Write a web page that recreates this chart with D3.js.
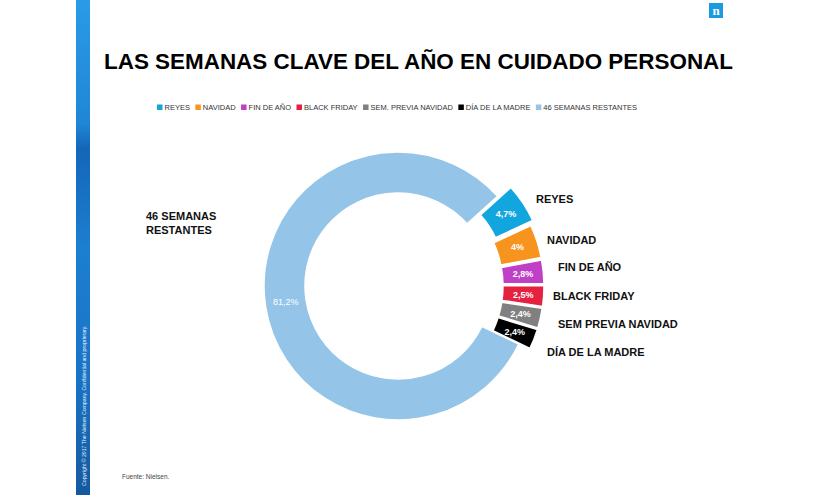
<!DOCTYPE html>
<html><head><meta charset="utf-8">
<script src="https://cdn.jsdelivr.net/npm/d3@7"></script>
<style>html,body{margin:0;padding:0;background:#fff;}svg{display:block;}</style>
</head><body>
<script>
// ---- data ----
const categories = ["REYES","NAVIDAD","FIN DE AÑO","BLACK FRIDAY","SEM. PREVIA NAVIDAD","DÍA DE LA MADRE","46 SEMANAS RESTANTES"];
const calloutLabels = ["REYES","NAVIDAD","FIN DE AÑO","BLACK FRIDAY","SEM PREVIA NAVIDAD","DÍA DE LA MADRE",["46 SEMANAS","RESTANTES"]];
const values = [4.7, 4, 2.8, 2.5, 2.4, 2.4, 81.2];
const valueLabels = ["4,7%","4%","2,8%","2,5%","2,4%","2,4%","81,2%"];
const colors = ["#12a6df","#f7941d","#bf3fc6","#e4213f","#808080","#000000","#94c4e7"];

const W = 824, H = 495;
const svg = d3.select("body").append("svg").attr("width", W).attr("height", H);
const font = "'Liberation Sans', Arial, sans-serif";

// left decorative strip
const defs = svg.append("defs");
const g1 = defs.append("linearGradient").attr("id","strip").attr("x1",0).attr("y1",0).attr("x2",0).attr("y2",1);
[["0%","#2a9be6"],["25%","#1f86d6"],["30%","#1466b8"],["50%","#1c7fd0"],["75%","#1a74c6"],["100%","#15599f"]]
  .forEach(s => g1.append("stop").attr("offset", s[0]).attr("stop-color", s[1]));
svg.append("rect").attr("x",76).attr("y",0).attr("width",14).attr("height",H).attr("fill","url(#strip)");
svg.append("text").attr("transform","translate(86,486) rotate(-90)")
  .attr("font-family", font).attr("font-size", 5.2).attr("fill", "#e8f3ff")
  .text("Copyright © 2017 The Nielsen Company. Confidential and proprietary.");

// logo
svg.append("rect").attr("x",709).attr("y",3).attr("width",14).attr("height",15).attr("fill","#1a9be0");
svg.append("text").attr("x",716).attr("y",15).attr("text-anchor","middle")
  .attr("font-family","'Liberation Serif', serif").attr("font-weight","bold").attr("font-size",13).attr("fill","#fff").text("n");

// title
svg.append("text").attr("x",104).attr("y",69)
  .attr("font-family", font).attr("font-weight","bold").attr("font-size",22.6).attr("fill","#000")
  .attr("textLength", 629).attr("lengthAdjust","spacingAndGlyphs")
  .text("LAS SEMANAS CLAVE DEL AÑO EN CUIDADO PERSONAL");

// legend
const lg = svg.append("g").attr("font-family", font).attr("font-size", 7.5).attr("fill","#333");
const items = categories.map((c, i) => {
  const g = lg.append("g");
  g.append("rect").attr("x",0).attr("y",-5.5).attr("width",5.5).attr("height",5.5).attr("fill",colors[i]);
  const t = g.append("text").attr("x",7.5).attr("y",0).text(c);
  return {g, w: 7.5 + t.node().getComputedTextLength()};
});
const legStart = 157, legEnd = 637;
const totalW = d3.sum(items, d => d.w);
const gap = (legEnd - legStart - totalW) / (items.length - 1);
let lx = legStart;
items.forEach(it => { it.g.attr("transform", `translate(${lx},110)`); lx += it.w + gap; });

// donut
const cx = 398, cy = 286, rOuter = 134, rInner = 93, explode = 12;
const start = 48 * Math.PI / 180;
const pie = d3.pie().sort(null).value(d => d).startAngle(start).endAngle(start + 2 * Math.PI);
const arcs = pie(values);
const arc = d3.arc().innerRadius(rInner).outerRadius(rOuter);
const chart = svg.append("g").attr("transform", `translate(${cx},${cy})`);
arcs.forEach((a, i) => {
  const big = i === arcs.length - 1;
  const mid = (a.startAngle + a.endAngle) / 2;
  const off = big ? 0 : (i === 0 ? 16 : explode);
  const dx = Math.sin(mid) * off, dy = -Math.cos(mid) * off;
  const g = chart.append("g").attr("transform", `translate(${dx},${dy})`);
  g.append("path").attr("d", arc(a)).attr("fill", colors[i]).attr("stroke","#fff").attr("stroke-width",1.5);
  const c = arc.centroid(a);
  g.append("text").attr("x", c[0]).attr("y", c[1] + 3).attr("text-anchor","middle")
    .attr("font-family", font).attr("font-weight", big ? "normal" : "bold").attr("font-size", 9)
    .attr("fill","#fff").text(valueLabels[i]);
});

// callout labels
const calloutPos = [[536,203],[547,244],[558,271],[553,300],[558,328],[547,356],[146,220]];
const cl = svg.append("g").attr("font-family", font).attr("font-weight","bold").attr("font-size", 11).attr("fill","#111");
calloutLabels.forEach((lab, i) => {
  const t = cl.append("text").attr("x", calloutPos[i][0]).attr("y", calloutPos[i][1]);
  if (Array.isArray(lab)) {
    lab.forEach((l, j) => t.append("tspan").attr("x", calloutPos[i][0]).attr("dy", j ? 14 : 0).text(l));
  } else t.text(lab);
});

// source
svg.append("text").attr("x",122).attr("y",479).attr("font-family", font).attr("font-size",6.5).attr("fill","#444").text("Fuente: Nielsen.");
</script>
</body></html>
